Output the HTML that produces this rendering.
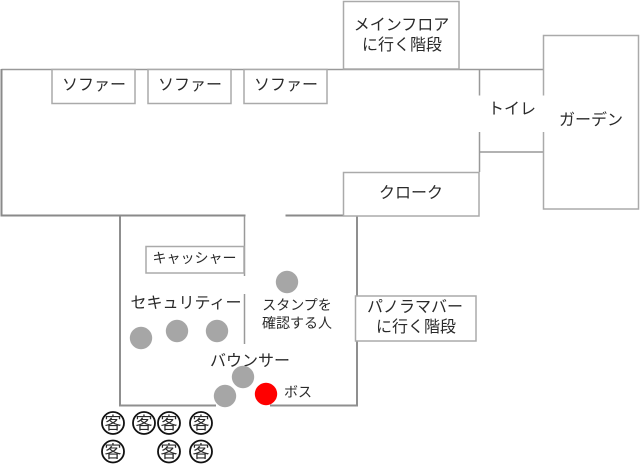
<!DOCTYPE html>
<html><head><meta charset="utf-8"><style>
html,body{margin:0;padding:0;background:#fff}
svg{display:block}
text{font-family:"Liberation Sans","Noto Sans CJK JP",sans-serif;fill:#2a2a2a;text-anchor:middle}
</style></head><body>
<svg width="640" height="464" viewBox="0 0 640 464" xmlns="http://www.w3.org/2000/svg">
<g fill="none" stroke="#999" stroke-width="1.5">
<path d="M1.5 69.5H543.5"/>
<path d="M1.5 69V215.5H245.5M285.5 215.5H343.5" stroke="#8a8a8a" stroke-width="2"/>
<path d="M120 216V405.5H216M270 405.5H357V216" stroke="#8f8f8f" stroke-width="2"/>
<path d="M479.5 69V95.5M479.5 132V172M479.5 152H543"/>
<path d="M244.5 216V276M244.5 294V344" stroke-width="1.5"/>
</g>
<g fill="#fff" stroke="#aaa" stroke-width="1.5">
<rect x="52" y="69.5" width="83" height="34"/>
<rect x="148" y="69.5" width="83" height="34"/>
<rect x="244" y="69.5" width="83" height="34"/>
<rect x="343.5" y="1.5" width="115.5" height="67.5"/>
<rect x="343.5" y="172.5" width="135.5" height="43.5"/>
<rect x="543.500" y="35.5" width="95" height="173.5"/>
<rect x="146" y="246.5" width="98" height="26.5"/>
<rect x="355.5" y="296" width="120.5" height="45"/>
</g>
<rect x="541" y="95.5" width="5" height="36.5" fill="#fff"/>
<g font-size="16">
<text x="94" y="90">ソファー</text>
<text x="190" y="90">ソファー</text>
<text x="286" y="90">ソファー</text>
<text x="401.500" y="30">メインフロア</text>
<text x="402" y="50">に行く階段</text>
<text x="512" y="114">トイレ</text>
<text x="591" y="125">ガーデン</text>
<text x="411" y="198">クローク</text>
<text x="186" y="308">セキュリティー</text>
<text x="415" y="312">パノラマバー</text>
<text x="416" y="332">に行く階段</text>
<text x="250" y="366">バウンサー</text>
</g>
<g font-size="14">
<text x="194.500" y="263">キャッシャー</text>
<text x="297" y="310">スタンプを</text>
<text x="297" y="328">確認する人</text>
<text x="298" y="397">ボス</text>
</g>
<g fill="#a6a6a6">
<circle cx="287" cy="282" r="11.2"/>
<circle cx="141" cy="338" r="11.2"/>
<circle cx="177" cy="331" r="11.2"/>
<circle cx="217" cy="331" r="11.2"/>
<circle cx="243" cy="377" r="11.2"/>
<circle cx="225" cy="396" r="11.2"/>
</g>
<circle cx="266" cy="394" r="11.2" fill="#f00"/>
<g fill="#fff" stroke="#111" stroke-width="1.8">
<circle cx="113" cy="423" r="11"/>
<circle cx="144" cy="423" r="11"/>
<circle cx="169" cy="423" r="11"/>
<circle cx="201" cy="423" r="11"/>
<circle cx="113" cy="451.500" r="11"/>
<circle cx="169" cy="451.500" r="11"/>
<circle cx="201" cy="451.500" r="11"/>
</g>
<g font-size="17" style="fill:#111">
<text x="113" y="429">客</text>
<text x="144" y="429">客</text>
<text x="169" y="429">客</text>
<text x="201" y="429">客</text>
<text x="113" y="457.500">客</text>
<text x="169" y="457.500">客</text>
<text x="201" y="457.500">客</text>
</g>
</svg>
</body></html>
